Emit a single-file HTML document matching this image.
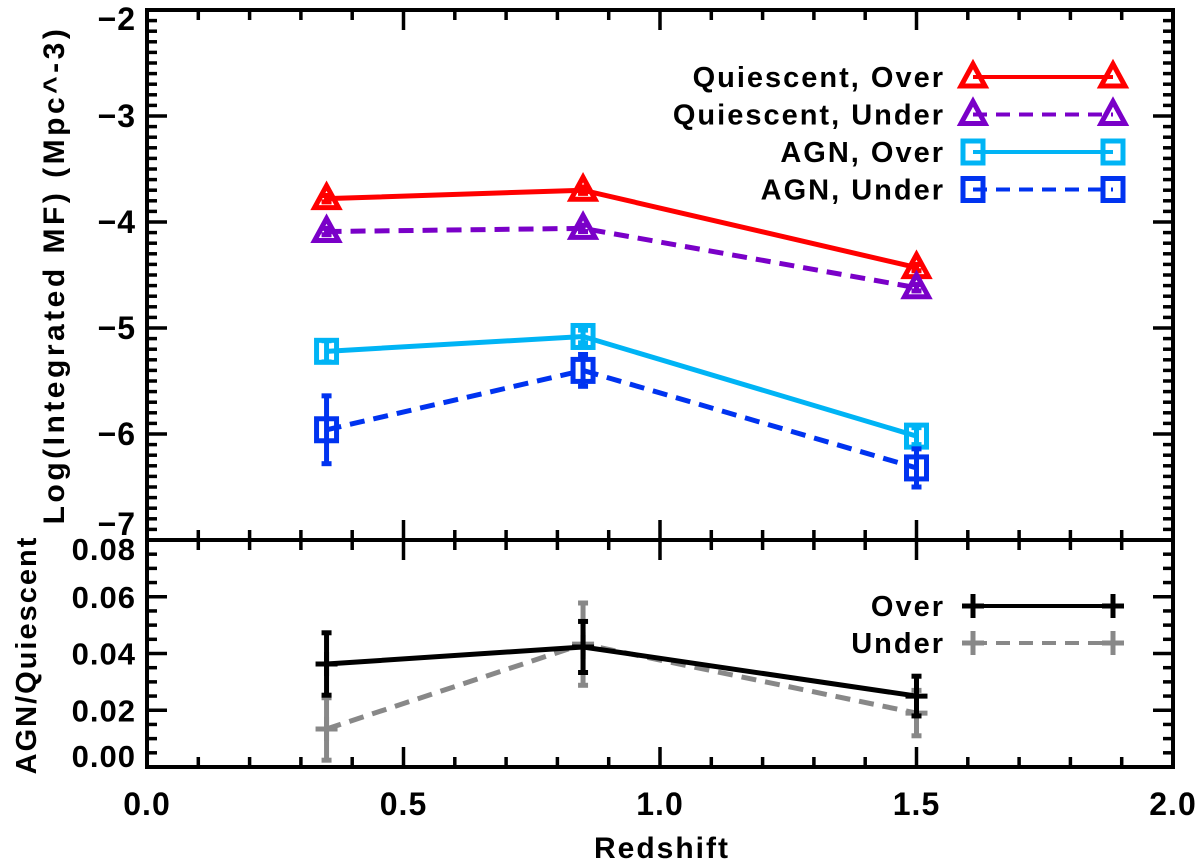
<!DOCTYPE html>
<html><head><meta charset="utf-8"><style>
html,body{margin:0;padding:0;background:#fff;}
svg{display:block;font-family:"Liberation Sans","DejaVu Sans",sans-serif;font-weight:bold;}
</style></head><body>
<svg id="chart" width="1200" height="863" viewBox="0 0 1200 863">
<g id="axes"></g>
<g id="series"></g>
<g id="legend"></g>
<text x="662" y="858" text-anchor="middle" font-size="30" letter-spacing="2">Redshift</text>
<text transform="translate(64,275) rotate(-90)" text-anchor="middle" font-size="30" letter-spacing="3.5">Log(Integrated MF) (Mpc^-3)</text>
<text transform="translate(36,655) rotate(-90)" text-anchor="middle" font-size="29" letter-spacing="2">AGN/Quiescent</text>
</svg>
<script>
const redshift = [0.35, 0.85, 1.5];
const quiOver = [-3.78, -3.70, -4.43];
const quiOverErr = [0.03, 0.03, 0.03];
const quiUnder = [-4.09, -4.06, -4.62];
const quiUnderErr = [0.03, 0.03, 0.03];
const agnOver = [-5.22, -5.08, -6.02];
const agnOverErr = [0.1, 0.06, 0.08];
const agnUnder = [-5.96, -5.40, -6.32];
const agnUnderErr = [0.32, 0.15, 0.18];
const ratioOver = [0.0363, 0.0423, 0.025];
const ratioOverErr = [0.011, 0.009, 0.007];
const ratioUnder = [0.0134, 0.0433, 0.019];
const ratioUnderErr = [0.011, 0.0145, 0.008];
const xTicks = ["0.0", "0.5", "1.0", "1.5", "2.0"];
const topTicks = ["-2", "-3", "-4", "-5", "-6", "-7"];
const botTicks = ["0.00", "0.02", "0.04", "0.06", "0.08"];
const topLegend = ["Quiescent, Over", "Quiescent, Under", "AGN, Over", "AGN, Under"];
const botLegend = ["Over", "Under"];

const L = 147, R = 1173, T = 10, M = 540, B = 767;
const X = v => L + (v - 0) / 2 * (R - L);
const Yt = v => T + (-2 - v) / 5 * (M - T);
const Yb = v => B - v / 0.08 * (B - M);
const NS = "http://www.w3.org/2000/svg";
function mk(tag, attrs, parent) {
  const e = document.createElementNS(NS, tag);
  for (const k in attrs) e.setAttribute(k, attrs[k]);
  parent.appendChild(e);
  return e;
}
const ax = document.getElementById('axes');
const sg = document.getElementById('series');
const lg = document.getElementById('legend');

let f1 = mk('rect', {x: L, y: T, width: R - L, height: M - T, fill: 'none', stroke: '#000', 'stroke-width': 4}, ax);


let f2 = mk('rect', {x: L, y: M, width: R - L, height: B - M, fill: 'none', stroke: '#000', 'stroke-width': 4}, ax);



function tick(x1, y1, x2, y2) { mk('line', {x1, y1, x2, y2, stroke: '#000', 'stroke-width': 3.5}, ax); }
for (let i = 0; i <= 20; i++) {
  const v = i * 0.1, x = X(v), major = i % 5 === 0, len = major ? 20 : 10;
  tick(x, T, x, T + len); tick(x, M, x, M - len);
  tick(x, M, x, M + len); tick(x, B, x, B - len);
}
xTicks.forEach(t => {
  const e = mk('text', {x: X(parseFloat(t)), y: 815, 'text-anchor': 'middle', 'font-size': 32, 'letter-spacing': 1}, ax);
  e.textContent = t;
  
  
});
for (let i = 0; i <= 50; i++) {
  const v = -2 - i * 0.1, y = Yt(v), len = i % 10 === 0 ? 20 : 10;
  tick(L, y, L + len, y); tick(R, y, R - len, y);
}
topTicks.forEach(t => {
  const v = parseFloat(t);
  const dy = v === -2 ? 20 : (v === -7 ? -5 : 11);
  const e = mk('text', {x: 136, y: Yt(v) + dy, 'text-anchor': 'end', 'font-size': 32, 'letter-spacing': 1}, ax);
  e.textContent = t.replace('-', '\u2212');
  
  
});
for (let i = 0; i <= 16; i++) {
  const v = i * 0.005, y = Yb(v), len = i % 4 === 0 ? 20 : 10;
  tick(L, y, L + len, y); tick(R, y, R - len, y);
}
botTicks.forEach(t => {
  const v = parseFloat(t);
  const dy = v === 0.08 ? 20 : (v === 0 ? 0 : 11);
  const e = mk('text', {x: 136, y: Yb(v) + dy, 'text-anchor': 'end', 'font-size': 31, 'letter-spacing': 1}, ax);
  e.textContent = t;
  
  
});

function marker(type, x, y, color, parent) {
  if (type === 'tri') {
    mk('polygon', {points: `${x},${y - 13} ${x - 12},${y + 9} ${x + 12},${y + 9}`, fill: 'none', stroke: color, 'stroke-width': 5}, parent);
  } else if (type === 'sq') {
    mk('rect', {x: x - 10, y: y - 11, width: 20, height: 22, fill: 'none', stroke: color, 'stroke-width': 5}, parent);
  } else {
    mk('line', {x1: x - 11, y1: y, x2: x + 11, y2: y, stroke: color, 'stroke-width': 5}, parent);
    mk('line', {x1: x, y1: y - 12, x2: x, y2: y + 12, stroke: color, 'stroke-width': 5}, parent);
  }
}
function series(name, vals, errs, Y, color, dash, type) {
  const g = mk('g', {}, sg);
  
  
  const pts = redshift.map((r, i) => `${X(r)},${Y(vals[i])}`).join(' ');
  mk('polyline', {points: pts, fill: 'none', stroke: color, 'stroke-width': 5, 'stroke-dasharray': dash ? '15,9' : 'none'}, g);
  redshift.forEach((r, i) => {
    const x = X(r), y1 = Y(vals[i] + errs[i]), y2 = Y(vals[i] - errs[i]);
    mk('line', {x1: x, y1, x2: x, y2, stroke: color, 'stroke-width': 5}, g);
    mk('line', {x1: x - 5, y1, x2: x + 5, y2: y1, stroke: color, 'stroke-width': 5}, g);
    mk('line', {x1: x - 5, y1: y2, x2: x + 5, y2, stroke: color, 'stroke-width': 5}, g);
    marker(type, x, Y(vals[i]), color, g);
  });
}
series('quiescent-over-series', quiOver, quiOverErr, Yt, '#ff0000', false, 'tri');
series('quiescent-under-series', quiUnder, quiUnderErr, Yt, '#7a00c8', true, 'tri');
series('agn-over-series', agnOver, agnOverErr, Yt, '#00b4f5', false, 'sq');
series('agn-under-series', agnUnder, agnUnderErr, Yt, '#0033f0', true, 'sq');
series('ratio-under-series', ratioUnder, ratioUnderErr, Yb, '#888888', true, 'plus');
series('ratio-over-series', ratioOver, ratioOverErr, Yb, '#000000', false, 'plus');

function legendRow(label, y, color, dash, type) {
  const g = mk('g', {}, lg);
  
  
  const t = mk('text', {x: 945, y: y + 10, 'text-anchor': 'end', 'font-size': 29, 'letter-spacing': 2}, g);
  t.textContent = label;
  mk('line', {x1: 973, y1: y, x2: 1113, y2: y, stroke: color, 'stroke-width': 4, 'stroke-dasharray': dash ? '14,9' : 'none'}, g);
  marker(type, 973, y, color, g);
  marker(type, 1113, y, color, g);
}
const tColors = ['#ff0000', '#7a00c8', '#00b4f5', '#0033f0'];
const tTypes = ['tri', 'tri', 'sq', 'sq'];
topLegend.forEach((l, i) => legendRow(l, 77 + i * 37.5, tColors[i], i % 2 === 1, tTypes[i]));
const bColors = ['#000000', '#888888'];
botLegend.forEach((l, i) => legendRow(l, 606 + i * 37, bColors[i], i === 1, 'plus'));
</script>
</body></html>
